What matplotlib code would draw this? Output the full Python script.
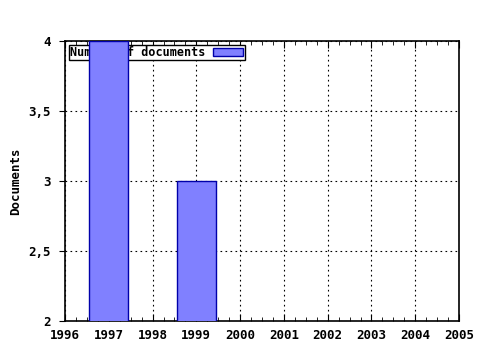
import matplotlib
matplotlib.use("Agg")
import matplotlib.pyplot as plt
import matplotlib.ticker as ticker

# --------- data ----------
years = [1997, 1999]
documents = [4, 3]
series_label = "Number of documents"

plt.rcParams['font.family'] = ['DejaVu Sans Mono', 'DejaVu Sans']
plt.rcParams['font.weight'] = 'bold'

fig = plt.figure(figsize=(4.8, 3.5), dpi=100)
ax = fig.add_axes([65 / 480, 1 - 321 / 350, (459 - 65) / 480, (321 - 41) / 350])

bars = ax.bar(years, documents, width=0.9, color="#8080ff", edgecolor="#0000aa",
              linewidth=1, label=series_label, zorder=3)

ax.set_xlim(1996, 2005)
ax.set_ylim(2, 4)
ax.xaxis.set_major_locator(ticker.MultipleLocator(1))
ax.xaxis.set_minor_locator(ticker.AutoMinorLocator(4))
ax.yaxis.set_major_locator(ticker.MultipleLocator(0.5))
ax.yaxis.set_major_formatter(ticker.FuncFormatter(lambda v, p: f"{v:g}".replace(".", ",")))

ax.tick_params(axis='x', which='both', direction='in', top=True, bottom=True,
               labelsize=9, pad=6)
ax.tick_params(axis='x', which='major', length=5)
ax.tick_params(axis='x', which='minor', length=3)
ax.tick_params(axis='y', which='major', direction='out', length=4, labelsize=9, pad=6)

ax.grid(True, which='major', color='black', linestyle=(0, (1.5, 3)), linewidth=0.8, zorder=1)
ax.set_axisbelow(True)

for s in ax.spines.values():
    s.set_linewidth(1.2)

ax.set_ylabel("Documents", fontsize=9, fontweight='bold')
ax.yaxis.set_label_coords(-0.11, 0.5)

leg = ax.legend(loc='upper left', markerfirst=False, fontsize=8.5, frameon=True,
                fancybox=False, edgecolor='black', framealpha=1,
                borderpad=0.1, handlelength=2.6, handleheight=0.6,
                handletextpad=0.6, borderaxespad=0.35)
leg.get_frame().set_linewidth(1)
leg.set_zorder(2)

fig.savefig("out.png", dpi=100)
